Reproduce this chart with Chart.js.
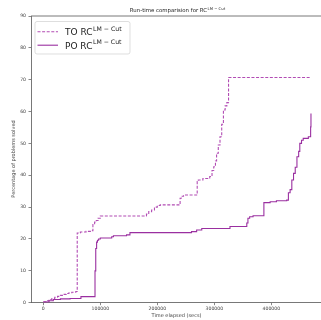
<!DOCTYPE html>
<html>
<head>
<meta charset="utf-8">
<script src="https://cdn.jsdelivr.net/npm/chart.js@4/dist/chart.umd.min.js"></script>
<style>
    html, body { margin: 0; padding: 0; background: #fff; overflow: hidden; }
</style>
</head>
<body>
<canvas id="myChart" width="321" height="320"></canvas>
<script>
// time solved (secs) and percentage solved
const toTimes = [0, 5000, 10000, 15000, 20000, 25000, 30000, 35000, 40000, 45000, 50000, 57000,
    59500, 65000, 75000, 85000, 87000, 90000, 93000, 96000, 100000, 181000, 185000, 190000,
    195000, 200000, 205000, 240000, 242000, 246000, 270000, 272000, 280000, 292000, 296000,
    299000, 302000, 304000, 307000, 310000, 313000, 316000, 319000, 322000, 325000, 468000];
const toValues = [0.3, 0.6, 1.0, 1.3, 1.7, 2.0, 2.3, 2.6, 2.9, 3.1, 3.3, 3.5,
    21.9, 22.2, 22.4, 22.6, 24.5, 25.3, 25.8, 26.5, 27.2, 27.8, 28.6, 29.1,
    30.0, 30.5, 30.7, 32.8, 33.4, 33.8, 38.0, 38.5, 39.0, 39.6, 41.5,
    42.7, 44.5, 46.9, 49.5, 52.1, 56.0, 60.5, 61.8, 62.8, 70.7, 70.7];

const poTimes = [0, 10000, 17500, 30000, 47000, 66000, 90700, 92000, 93500, 95000, 97000,
    100000, 120000, 123000, 146000, 152000, 260000, 269000, 278000, 327500, 357000, 359000,
    362000, 368000, 387000, 398000, 409000, 427000, 430000, 433000, 436000, 439000, 442000,
    445000, 448000, 450000, 453000, 456000, 465000, 469000, 469600];
const poValues = [0.2, 0.6, 1.0, 1.2, 1.3, 1.9, 10.0, 17.0, 19.0, 19.6, 20.0,
    20.3, 20.7, 21.0, 21.3, 22.0, 22.3, 22.8, 23.3, 23.9, 25.0, 26.5,
    27.0, 27.3, 31.4, 31.7, 32.0, 32.2, 34.5, 35.5, 38.5, 40.6, 42.5,
    45.8, 47.5, 50.0, 51.0, 51.6, 52.1, 55.2, 59.4];

const xTicks = [0, 100000, 200000, 300000, 400000];
const yTicks = [0, 10, 20, 30, 40, 50, 60, 70, 80, 90];

const seriesNames = ["TO RC", "PO RC"];
const supText = "LM \u2212 Cut";
const titleText = "Run-time comparision for RC";
const xTitle = "Time elapsed (secs)";
const yTitle = "Percentage of problems solved";

const toColor = "#b24cb4";
const poColor = "#9a2fa0";
const axisColor = "#555";
const textColor = "#444";
const fontFamily = "'DejaVu Sans', sans-serif";

function drawSup(ctx, x, y, main, sup, size, supSize, rise) {
    ctx.font = `${size}px ${fontFamily}`;
    ctx.fillText(main, x, y);
    const w = ctx.measureText(main).width;
    ctx.font = `${supSize}px ${fontFamily}`;
    ctx.fillText(sup, x + w + 0.5, y - rise);
}

function supWidth(ctx, main, sup, size, supSize) {
    ctx.font = `${size}px ${fontFamily}`;
    const w = ctx.measureText(main).width;
    ctx.font = `${supSize}px ${fontFamily}`;
    return w + 0.5 + ctx.measureText(sup).width;
}

const textPlugin = {
    id: "texts",
    afterDraw(chart) {
        const ctx = chart.ctx;
        const a = chart.chartArea;
        ctx.save();

        // top spine
        ctx.strokeStyle = axisColor;
        ctx.lineWidth = 0.8;
        ctx.beginPath();
        ctx.moveTo(a.left, a.top);
        ctx.lineTo(a.right, a.top);
        ctx.stroke();

        ctx.fillStyle = "#222";
        ctx.textBaseline = "alphabetic";
        ctx.textAlign = "left";

        // title
        const tw = supWidth(ctx, titleText, supText, 5.4, 3.8);
        drawSup(ctx, 177.5 - tw / 2, 12, titleText, supText, 5.4, 3.8, 2.2);

        // axis titles
        ctx.fillStyle = textColor;
        ctx.font = `5px ${fontFamily}`;
        ctx.textAlign = "center";
        ctx.fillText(xTitle, 176.5, 317);
        ctx.save();
        ctx.translate(15, 159);
        ctx.rotate(-Math.PI / 2);
        ctx.fillText(yTitle, 0, 0);
        ctx.restore();

        // legend
        ctx.fillStyle = "rgba(255,255,255,0.85)";
        ctx.strokeStyle = "#d0d0d0";
        ctx.lineWidth = 0.7;
        ctx.beginPath();
        ctx.roundRect(35, 21.5, 95, 32.5, 2);
        ctx.fill();
        ctx.stroke();

        const rows = [
            { y: 31.7, color: toColor, dash: [3, 1.6] },
            { y: 45.2, color: poColor, dash: [] },
        ];
        rows.forEach((r, i) => {
            ctx.strokeStyle = r.color;
            ctx.lineWidth = 1.1;
            ctx.setLineDash(r.dash);
            ctx.beginPath();
            ctx.moveTo(37.5, r.y);
            ctx.lineTo(58, r.y);
            ctx.stroke();
            ctx.setLineDash([]);
            ctx.fillStyle = "#222";
            ctx.textAlign = "left";
            drawSup(ctx, 65, r.y + 3.3, seriesNames[i], supText, 9, 6.2, 4.3);
        });
        ctx.restore();
    },
};

function main() {
    const ctx = document.getElementById("myChart");

    new Chart(ctx, {
        type: "line",
        data: {
            datasets: [
                {
                    label: seriesNames[0],
                    data: toTimes.map((t, i) => ({ x: t, y: toValues[i] })),
                    borderColor: toColor,
                    borderWidth: 1.1,
                    borderDash: [3, 1.6],
                    stepped: "before",
                    pointRadius: 0,
                    fill: false,
                    order: 1,
                },
                {
                    label: seriesNames[1],
                    data: poTimes.map((t, i) => ({ x: t, y: poValues[i] })),
                    borderColor: poColor,
                    borderWidth: 1.1,
                    stepped: "before",
                    pointRadius: 0,
                    fill: false,
                    order: 0,
                },
            ],
        },
        options: {
            responsive: false,
            animation: false,
            layout: { padding: { top: 16, right: 0, left: 0, bottom: 0 } },
            plugins: {
                legend: { display: false },
                title: { display: false },
                tooltip: { enabled: false },
            },
            scales: {
                x: {
                    type: "linear",
                    min: -21600,
                    max: 487200,
                    afterBuildTicks: (s) => { s.ticks = xTicks.map((v) => ({ value: v })); },
                    afterFit: (s) => { s.height = 17.3; },
                    grid: { drawOnChartArea: false, drawTicks: true, tickLength: 2.5, color: axisColor, lineWidth: 0.7 },
                    border: { display: true, color: axisColor, width: 0.8 },
                    ticks: {
                        font: { size: 4.6, family: fontFamily },
                        color: textColor,
                        padding: 0.8,
                        maxRotation: 0,
                        autoSkip: false,
                        callback: (v) => String(v),
                    },
                },
                y: {
                    type: "linear",
                    min: 0,
                    max: 90,
                    afterBuildTicks: (s) => { s.ticks = yTicks.map((v) => ({ value: v })); },
                    afterFit: (s) => { s.width = 31; },
                    grid: { drawOnChartArea: false, drawTicks: true, tickLength: 2.5, color: axisColor, lineWidth: 0.7 },
                    border: { display: true, color: axisColor, width: 0.8 },
                    ticks: {
                        font: { size: 4.6, family: fontFamily },
                        color: textColor,
                        padding: 2.5,
                        autoSkip: false,
                        callback: (v) => String(v),
                    },
                },
            },
        },
        plugins: [textPlugin],
    });
}

main();
</script>
</body>
</html>
